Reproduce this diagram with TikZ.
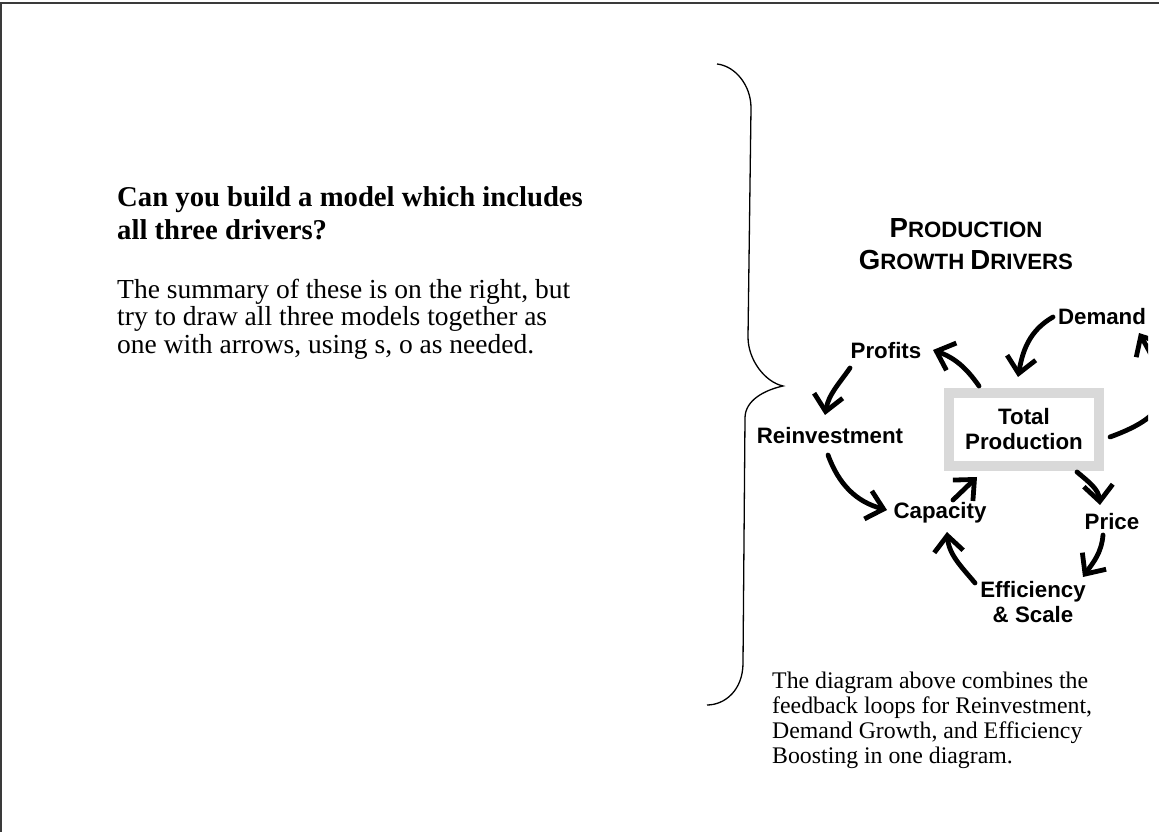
\documentclass[tikz,border=0pt]{standalone}
\usepackage{fontspec}
\setmainfont{Liberation Serif}
\setsansfont{Liberation Sans}
\usetikzlibrary{arrows.meta}
\definecolor{ink}{HTML}{000000}
\definecolor{framegray}{HTML}{3A3A3A}
\definecolor{boxgray}{HTML}{D9D9D9}
\newcommand{\fakesc}[2]{{\fontsize{27.6}{32}\selectfont #1}{\fontsize{22.2}{32}\selectfont #2}}
\tikzset{
  framelines/.style={draw=framegray, line width=1.5pt},
  braceline/.style={draw=ink, line width=1.3pt},
  loopflow/.style={-{Straight Barb[length=16pt, width=29pt]}, line width=4.8pt, draw=ink, line cap=round},
  varlbl/.style={font=\sffamily\bfseries\fontsize{22.3}{25}\selectfont, inner sep=1pt, align=center},
  totalbox/.style={varlbl, draw=boxgray, line width=10pt, minimum width=150pt, minimum height=73pt},
  bodytxt/.style={anchor=north west, inner sep=0pt, align=left}
}

\begin{document}
\begin{tikzpicture}[x=1pt, y=1pt]
  \useasboundingbox (0,0) rectangle (1159,832);

  % ---- Slide frame ---------------------------------------------------------
  \draw[framelines] (1,0) -- (1,829) -- (1159,829);

  % ---- Left text -----------------------------------------------------------
  \node[bodytxt, font=\bfseries\fontsize{28.7}{32.5}\selectfont] (question) at (117,645.5)
        {Can you build a model which includes\\all three drivers?};
  \node[bodytxt, font=\fontsize{27.5}{27.5}\selectfont] (summary) at (117,553.5)
        {The summary of these is on the right, but\\try to draw all three models together as\\one with arrows, using s, o as needed.};

  % ---- Brace ---------------------------------------------------------------
  \draw[braceline] (717,768) .. controls (735,766) and (751,747) .. (751,724)
        -- (748,495) .. controls (748,472) and (765,450) .. (783,446)
        .. controls (765,442) and (745,432) .. (745,414)
        -- (743,169) .. controls (743,142) and (725,127) .. (707,127);

  % ---- Diagram -------------------------------------------------------------
  \node[font=\sffamily\bfseries\fontsize{22.2}{32}\selectfont, align=center] (title) at (966,588)
        {\fakesc{P}{RODUCTION}\\\fakesc{G}{ROWTH} \fakesc{D}{RIVERS}};

  \node[varlbl] (demand)   at (1102,515) {Demand};
  \node[varlbl] (profits)  at (886,481)  {Profits};
  \node[varlbl] (reinv)    at (830,396)  {Reinvestment};
  \node[totalbox] (total)  at (1024,402.5) {Total\\Production};
  \node[varlbl] (capacity) at (940,319)  {Capacity};
  \node[varlbl] (price)    at (1112,310) {Price};
  \node[varlbl] (effic)    at (1033,230) {Efficiency\\\& Scale};

  \begin{scope}
    \clip (0,0) rectangle (1148,832);
    % reinvestment loop
    \draw[loopflow] ([shift={(-45,43.5)}]total.center) to[out=125,in=-20] ([shift={(47,1)}]profits.center);
    \draw[loopflow] ([shift={(-36,-17)}]profits.center) to[out=235,in=80] ([shift={(-5,21)}]reinv.center);
    \draw[loopflow] ([shift={(-2,-19)}]reinv.center) to[out=-70,in=165] ([shift={(-53,3)}]capacity.center);
    \draw[loopflow] ([shift={(13,13)}]capacity.center) -- ([shift={(-47,-47.5)}]total.center);
    % demand loop
    \draw[loopflow] ([shift={(-49,0)}]demand.center) to[out=210,in=80] ([shift={(-6,52.5)}]total.center);
    \draw[loopflow] ([shift={(86,-7.5)}]total.center) to[out=20,in=-60,looseness=1.6] ([shift={(37,-16)}]demand.center);
    % efficiency loop
    \draw[loopflow] ([shift={(53,-42.5)}]total.center) to[out=-40,in=95] ([shift={(-12,17)}]price.center);
    \draw[loopflow] ([shift={(-9,-13)}]price.center) to[out=-95,in=55] ([shift={(50,25)}]effic.center);
    \draw[loopflow] ([shift={(-58,19)}]effic.center) to[out=130,in=-85] ([shift={(7,-19)}]capacity.center);
  \end{scope}

  % ---- Caption -------------------------------------------------------------
  \node[bodytxt, font=\fontsize{23.8}{25}\selectfont] (caption) at (772,160)
        {The diagram above combines the\\feedback loops for Reinvestment,\\Demand Growth, and Efficiency\\Boosting in one diagram.};

\end{tikzpicture}
\end{document}
